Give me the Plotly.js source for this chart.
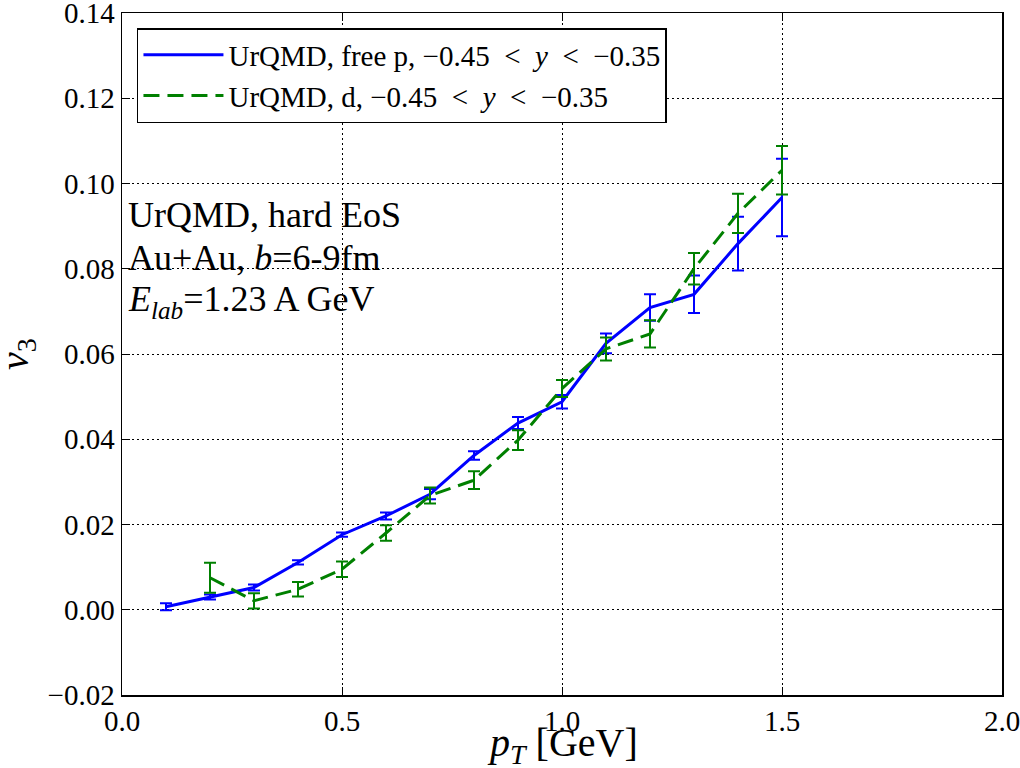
<!DOCTYPE html>
<html>
<head>
<meta charset="utf-8">
<script src="https://cdn.plot.ly/plotly-3.0.1.min.js"></script>
<style>
  html, body { margin: 0; padding: 0; background: #fff; }
  #chart { width: 1020px; height: 768px; }
</style>
</head>
<body>
<div id="chart"></div>
<script>
// pT bins [GeV]
const ptProton = [0.1, 0.2, 0.3, 0.4, 0.5, 0.6, 0.7, 0.8, 0.9, 1.0, 1.1, 1.2, 1.3, 1.4, 1.5];
const v3Proton = [0.0007, 0.0030, 0.0052, 0.0111, 0.0176, 0.0220, 0.0271, 0.0362, 0.0438, 0.0488, 0.0625, 0.0709, 0.0740, 0.0859, 0.0967];
const errProton = [0.0008, 0.0006, 0.0007, 0.0005, 0.0005, 0.0008, 0.0012, 0.0010, 0.0014, 0.0016, 0.0023, 0.0031, 0.0044, 0.0063, 0.0091];

const ptDeuteron = [0.2, 0.3, 0.4, 0.5, 0.6, 0.7, 0.8, 0.9, 1.0, 1.1, 1.2, 1.3, 1.4, 1.5];
const v3Deuteron = [0.0075, 0.0021, 0.0048, 0.0095, 0.0180, 0.0268, 0.0304, 0.0398, 0.0519, 0.0612, 0.0647, 0.0800, 0.0930, 0.1031];
const errDeuteron = [0.0035, 0.0018, 0.0017, 0.0018, 0.0018, 0.0019, 0.0021, 0.0023, 0.0020, 0.0027, 0.0032, 0.0037, 0.0046, 0.0057];

const xTicks = [0.0, 0.5, 1.0, 1.5, 2.0];
const yTicks = [-0.02, 0.00, 0.02, 0.04, 0.06, 0.08, 0.10, 0.12, 0.14];

const infoLines = ['UrQMD, hard EoS', 'Au+Au, <i>b</i>=6-9fm', '<i>E</i><sub><i>lab</i></sub>=1.23 A GeV'];
const infoY = [0.0926, 0.0825, 0.0724];

const serif = 'Liberation Serif, Times New Roman, serif';
const sp = '\u2002';

const traceProton = {
    x: ptProton,
    y: v3Proton,
    name: 'UrQMD, free p, \u22120.45' + sp + '&lt;' + sp + '<i>y</i>' + sp + '&lt;' + sp + '\u22120.35',
    type: 'scatter',
    mode: 'lines',
    line: { color: '#0000ff', width: 3 },
    error_y: { type: 'data', array: errProton, visible: true, color: '#0000ff', thickness: 2, width: 6 }
};

const traceDeuteron = {
    x: ptDeuteron,
    y: v3Deuteron,
    name: 'UrQMD, d, \u22120.45' + sp + '&lt;' + sp + '<i>y</i>' + sp + '&lt;' + sp + '\u22120.35',
    type: 'scatter',
    mode: 'lines',
    line: { color: '#008000', width: 3, dash: '16px,8px' },
    error_y: { type: 'data', array: errDeuteron, visible: true, color: '#008000', thickness: 2, width: 6 }
};

const axisCommon = {
    showline: true,
    linecolor: '#000',
    linewidth: 1.5,
    mirror: 'ticks',
    ticks: 'inside',
    ticklen: 8,
    tickwidth: 1,
    tickcolor: '#000',
    showgrid: true,
    gridcolor: '#000',
    gridwidth: 1,
    griddash: '1.5px,3.5px',
    zeroline: false,
    ticklabeloverflow: 'allow',
    tickfont: { family: serif, size: 29, color: '#000' }
};

const layout = {
    width: 1020,
    height: 768,
    paper_bgcolor: '#fff',
    plot_bgcolor: '#fff',
    margin: { l: 122, r: 18, t: 13, b: 73 },
    showlegend: true,
    legend: {
        x: 0.017, y: 0.978, xanchor: 'left', yanchor: 'top',
        bgcolor: '#fff', bordercolor: '#000', borderwidth: 1.5,
        font: { family: serif, size: 29, color: '#000' },
        itemwidth: 80, tracegroupgap: 0
    },
    xaxis: Object.assign({}, axisCommon, {
        range: [0, 2],
        tickvals: xTicks,
        tickformat: '.1f'
    }),
    yaxis: Object.assign({}, axisCommon, {
        range: [-0.02, 0.14],
        tickvals: yTicks,
        tickformat: '.2f'
    }),
    annotations: infoLines.map((t, i) => ({
        x: 0.008, y: infoY[i], xref: 'x', yref: 'y',
        xanchor: 'left', yanchor: 'middle',
        text: t, showarrow: false,
        font: { family: serif, size: 36, color: '#000' }
    })).concat([
        {
            x: 0.5, y: 0, xref: 'paper', yref: 'paper',
            xanchor: 'center', yanchor: 'middle', yshift: -50,
            text: '<i>p</i><sub><i>T</i></sub> [GeV]', showarrow: false,
            font: { family: serif, size: 40, color: '#000' }
        },
        {
            x: 0, y: 0.5, xref: 'paper', yref: 'paper',
            xanchor: 'center', yanchor: 'middle', xshift: -105,
            textangle: -90,
            text: '<i>v</i><sub>3</sub>', showarrow: false,
            font: { family: serif, size: 40, color: '#000' }
        }
    ])
};

Plotly.newPlot('chart', [traceProton, traceDeuteron], layout, { displayModeBar: false, staticPlot: true });
</script>
</body>
</html>
